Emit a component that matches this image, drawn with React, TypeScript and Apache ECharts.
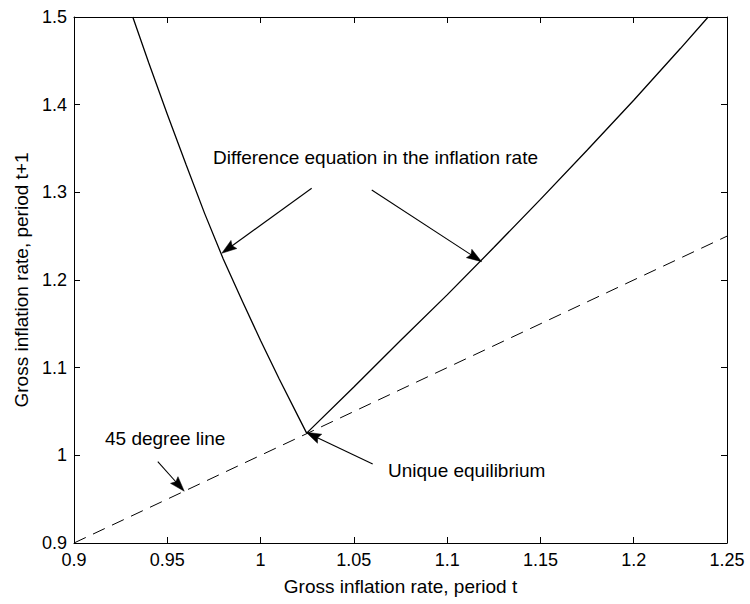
import React, { useEffect, useRef } from "react";
import * as echarts from "echarts";

// Difference equation in the inflation rate (solid curve)
const curveX = [0.9315, 0.94, 0.95, 0.96, 0.97, 0.98, 0.99, 1.0, 1.01, 1.02, 1.0247, 1.05, 1.075, 1.1, 1.125, 1.15, 1.175, 1.2, 1.225, 1.2399];
const curveY = [1.5, 1.448, 1.389, 1.332, 1.276, 1.224, 1.177, 1.131, 1.087, 1.045, 1.0253, 1.078, 1.131, 1.183, 1.237, 1.292, 1.348, 1.405, 1.464, 1.5];

// 45 degree line (dashed)
const diagX = [0.9, 1.25];
const diagY = [0.9, 1.25];

// annotation arrows: [fromX, fromY, toX, toY] in data units
const arrowFromX = [1.0274, 1.0596, 0.9449, 1.0601];
const arrowFromY = [1.3046, 1.3027, 0.9928, 0.9901];
const arrowToX = [0.9792, 1.1185, 0.9591, 1.0244];
const arrowToY = [1.2305, 1.2209, 0.9591, 1.0263];

// annotation texts
const annotationTexts = ["Difference equation in the inflation rate", "45 degree line", "Unique equilibrium"];

const xTitle = "Gross inflation rate, period t";
const yTitle = "Gross inflation rate, period t+1";

const FONT = '"Liberation Sans", Arial, Helvetica, sans-serif';

export default function App() {
  const ref = useRef<HTMLDivElement>(null);

  useEffect(() => {
    if (!ref.current) return;
    const chart = echarts.init(ref.current, null, { renderer: "svg" });

    const curve = curveX.map((x, i) => [x, curveY[i]]);
    const diag = diagX.map((x, i) => [x, diagY[i]]);
    const arrows = arrowFromX.map((x, i) => [x, arrowFromY[i], arrowToX[i], arrowToY[i]]);

    const axisCommon = {
      type: "value" as const,
      axisLine: { show: true, onZero: false, lineStyle: { color: "#000", width: 1 } },
      axisTick: { show: true, inside: true, length: 6, lineStyle: { color: "#000", width: 1 } },
      splitLine: { show: false },
    };
    const labelStyle = { color: "#000", fontSize: 18, fontFamily: FONT };
    const textStyle = (t: string, x: number, y: number) => ({
      type: "text",
      x,
      y,
      style: {
        text: t,
        font: `19px ${FONT}`,
        fill: "#000",
        align: "left",
        textAlign: "left",
        verticalAlign: "middle",
        textVerticalAlign: "middle",
      },
    });

    const option: any = {
      animation: false,
      backgroundColor: "#fff",
      grid: { left: 74, right: 23, top: 17, bottom: 61, containLabel: false, outerBoundsMode: "none" },
      xAxis: [
        {
          ...axisCommon,
          position: "bottom",
          min: 0.9,
          max: 1.25,
          interval: 0.05,
          axisLabel: { ...labelStyle, margin: 8 },
          name: xTitle,
          nameLocation: "middle",
          nameGap: 34,
          nameTextStyle: { color: "#000", fontSize: 19, fontFamily: FONT },
        },
        {
          ...axisCommon,
          position: "top",
          min: 0.9,
          max: 1.25,
          interval: 0.05,
          axisLabel: { show: false },
        },
      ],
      yAxis: [
        {
          ...axisCommon,
          position: "left",
          min: 0.9,
          max: 1.5,
          interval: 0.1,
          axisLabel: { ...labelStyle, margin: 7 },
          name: yTitle,
          nameLocation: "middle",
          nameGap: 42,
          nameTextStyle: { color: "#000", fontSize: 19, fontFamily: FONT },
        },
        {
          ...axisCommon,
          position: "right",
          min: 0.9,
          max: 1.5,
          interval: 0.1,
          axisLabel: { show: false },
        },
      ],
      series: [
        {
          type: "line",
          name: "Difference equation",
          data: curve,
          showSymbol: false,
          symbol: "none",
          xAxisIndex: 0,
          yAxisIndex: 0,
          lineStyle: { color: "#000", width: 1.3 },
          z: 3,
        },
        {
          type: "line",
          name: "45 degree line",
          data: diag,
          showSymbol: false,
          symbol: "none",
          xAxisIndex: 0,
          yAxisIndex: 0,
          lineStyle: { color: "#000", width: 1, type: [13, 8] },
          z: 2,
        },
        {
          type: "custom",
          name: "arrows",
          xAxisIndex: 0,
          yAxisIndex: 0,
          data: arrows,
          encode: { x: [0, 2], y: [1, 3] },
          clip: false,
          z: 4,
          renderItem: (params: any, api: any) => {
            const p1 = api.coord([api.value(0), api.value(1)]);
            const p2 = api.coord([api.value(2), api.value(3)]);
            const dx = p2[0] - p1[0];
            const dy = p2[1] - p1[1];
            const len = Math.hypot(dx, dy) || 1;
            const ux = dx / len;
            const uy = dy / len;
            const L = 15;
            const W = 5;
            const bx = p2[0] - ux * L;
            const by = p2[1] - uy * L;
            const px = -uy;
            const py = ux;
            return {
              type: "group",
              children: [
                {
                  type: "line",
                  shape: { x1: p1[0], y1: p1[1], x2: bx + ux * 3, y2: by + uy * 3 },
                  style: { stroke: "#000", lineWidth: 1.1 },
                },
                {
                  type: "polygon",
                  shape: {
                    points: [
                      [p2[0], p2[1]],
                      [bx + px * W, by + py * W],
                      [p2[0] - ux * L * 0.85, p2[1] - uy * L * 0.85],
                      [bx - px * W, by - py * W],
                    ],
                  },
                  style: { fill: "#000", stroke: "#000", lineWidth: 0.5 },
                },
              ],
            };
          },
        },
      ],
      graphic: [
        textStyle(annotationTexts[0], 213, 157),
        textStyle(annotationTexts[1], 105, 438),
        textStyle(annotationTexts[2], 388, 470),
      ],
    };

    chart.setOption(option);
    return () => {
      chart.dispose();
    };
  }, []);

  return (
    <div
      ref={ref}
      style={{ position: "fixed", left: 0, top: 0, width: 750, height: 604, background: "#fff" }}
    />
  );
}
